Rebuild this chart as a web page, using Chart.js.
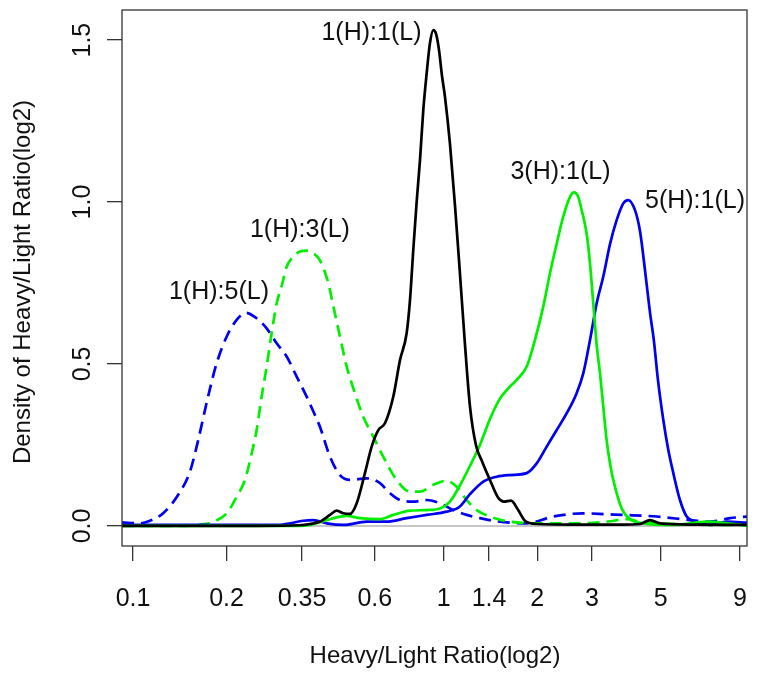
<!DOCTYPE html>
<html>
<head>
<meta charset="utf-8">
<script src="https://cdn.jsdelivr.net/npm/chart.js@4.4.1/dist/chart.umd.min.js"></script>
<style>
  body { margin: 0; background: #fff; }
  #chart { display: block; }
</style>
</head>
<body>
<canvas id="chart" width="758" height="677"></canvas>
<script>
// x values are log2(Heavy/Light ratio), y values are density
const xTickVals = [0.1, 0.2, 0.35, 0.6, 1, 1.4, 2, 3, 5, 9];
const xTickLabels = ['0.1', '0.2', '0.35', '0.6', '1', '1.4', '2', '3', '5', '9'];
const yTickVals = [0, 0.5, 1, 1.5];
const yTickLabels = ['0.0', '0.5', '1.0', '1.5'];

// 1(H):1(L) - black solid
const blackX = [-3.44, -2.0, -1.54, -1.43, -1.323, -1.216, -1.144, -1.074, -1.002, -0.93, -0.842, -0.77, -0.699, -0.628, -0.539, -0.467, -0.396, -0.36, -0.325, -0.289, -0.253, -0.218, -0.182, -0.147, -0.111, -0.082, -0.05, -0.018, 0.014, 0.067, 0.121, 0.174, 0.228, 0.281, 0.345, 0.41, 0.495, 0.581, 0.645, 0.72, 0.795, 0.87, 0.998, 1.4, 1.9, 2.1, 2.207, 2.314, 2.7, 3.244];
const blackY = [0.0, 0.0, 0.002, 0.006, 0.013, 0.034, 0.047, 0.039, 0.037, 0.07, 0.163, 0.245, 0.296, 0.317, 0.399, 0.512, 0.595, 0.698, 0.852, 1.0, 1.13, 1.284, 1.397, 1.49, 1.531, 1.52, 1.47, 1.39, 1.325, 1.181, 0.99, 0.78, 0.56, 0.37, 0.25, 0.2, 0.142, 0.088, 0.075, 0.078, 0.05, 0.016, 0.006, 0.004, 0.004, 0.006, 0.018, 0.008, 0.004, 0.003];

// 3(H):1(L) - green solid
const green31X = [-3.44, -1.54, -1.43, -1.251, -1.037, -0.895, -0.681, -0.539, -0.36, -0.182, -0.04, 0.067, 0.174, 0.281, 0.388, 0.495, 0.602, 0.691, 0.781, 0.888, 0.976, 1.065, 1.137, 1.209, 1.279, 1.351, 1.394, 1.437, 1.476, 1.529, 1.565, 1.6, 1.636, 1.672, 1.707, 1.743, 1.779, 1.814, 1.904, 1.993, 2.135, 2.452, 2.816, 3.03, 3.244];
const green31Y = [0.0, 0.0, 0.003, 0.018, 0.031, 0.024, 0.021, 0.034, 0.047, 0.049, 0.054, 0.075, 0.125, 0.185, 0.25, 0.33, 0.393, 0.425, 0.451, 0.492, 0.574, 0.677, 0.78, 0.872, 0.955, 1.016, 1.03, 1.018, 0.975, 0.903, 0.81, 0.687, 0.56, 0.471, 0.368, 0.265, 0.193, 0.142, 0.054, 0.021, 0.008, 0.003, 0.013, 0.008, 0.001];

// 5(H):1(L) - blue solid
const blue51X = [-3.44, -1.751, -1.644, -1.502, -1.395, -1.251, -1.074, -0.824, -0.61, -0.396, -0.182, 0.032, 0.174, 0.281, 0.424, 0.567, 0.709, 0.888, 0.995, 1.102, 1.209, 1.316, 1.422, 1.493, 1.565, 1.636, 1.707, 1.779, 1.85, 1.921, 1.974, 2.046, 2.1, 2.153, 2.206, 2.249, 2.292, 2.349, 2.402, 2.456, 2.527, 2.599, 2.706, 2.848, 3.03, 3.244];
const blue51Y = [0.003, 0.003, 0.008, 0.016, 0.018, 0.008, 0.003, 0.013, 0.013, 0.024, 0.034, 0.044, 0.06, 0.098, 0.137, 0.152, 0.157, 0.163, 0.193, 0.245, 0.296, 0.348, 0.41, 0.471, 0.574, 0.687, 0.77, 0.87, 0.944, 0.996, 1.006, 0.975, 0.91, 0.79, 0.66, 0.57, 0.45, 0.327, 0.235, 0.163, 0.08, 0.029, 0.013, 0.003, 0.013, 0.01];

// 1(H):3(L) - green dashed
const green13X = [-3.44, -2.8, -2.6, -2.464, -2.321, -2.214, -2.125, -2.053, -2.0, -1.947, -1.893, -1.84, -1.786, -1.733, -1.679, -1.609, -1.537, -1.465, -1.395, -1.323, -1.234, -1.181, -1.109, -1.037, -0.949, -0.86, -0.753, -0.646, -0.503, -0.36, -0.253, -0.111, 0.032, 0.139, 0.246, 0.353, 0.495, 0.709, 1.062, 1.422, 1.747, 1.96, 2.099, 2.527, 3.244];
const green13Y = [0.0, 0.0, 0.004, 0.013, 0.039, 0.09, 0.142, 0.224, 0.296, 0.399, 0.492, 0.595, 0.687, 0.74, 0.80, 0.831, 0.847, 0.85, 0.842, 0.82, 0.75, 0.68, 0.585, 0.492, 0.41, 0.337, 0.276, 0.214, 0.142, 0.106, 0.106, 0.127, 0.139, 0.121, 0.08, 0.049, 0.029, 0.013, 0.008, 0.008, 0.013, 0.021, 0.013, 0.005, 0.003];

// 1(H):5(L) - blue dashed
const blue15X = [-3.44, -3.25, -3.141, -3.0, -2.839, -2.713, -2.625, -2.528, -2.428, -2.321, -2.214, -2.114, -2.0, -1.893, -1.786, -1.679, -1.572, -1.465, -1.358, -1.323, -1.216, -1.109, -1.002, -0.824, -0.681, -0.574, -0.467, -0.328, -0.182, -0.04, 0.103, 0.246, 0.388, 0.53, 0.888, 1.172, 1.493, 1.743, 1.921, 2.278, 2.634, 2.848, 3.062, 3.244];
const blue15Y = [0.011, 0.008, 0.016, 0.039, 0.096, 0.168, 0.265, 0.389, 0.502, 0.584, 0.636, 0.658, 0.641, 0.61, 0.564, 0.523, 0.461, 0.399, 0.33, 0.306, 0.214, 0.157, 0.142, 0.147, 0.132, 0.101, 0.08, 0.075, 0.08, 0.07, 0.049, 0.034, 0.024, 0.016, 0.008, 0.029, 0.039, 0.036, 0.034, 0.029, 0.018, 0.013, 0.024, 0.029];

const curveLabels = ['1(H):1(L)', '1(H):3(L)', '1(H):5(L)', '3(H):1(L)', '5(H):1(L)'];

// where the curve names sit, in data units
const labelSpots = [
    { x: -0.772, y: 1.522 },
    { x: -1.537, y: 0.914 },
    { x: -2.403, y: 0.722 },
    { x: 1.249, y: 1.093 },
    { x: 2.688, y: 1.003 }
];

const FONT = '"Liberation Sans", Arial, Helvetica, sans-serif';

function pts(xs, ys) {
    return xs.map((x, i) => ({ x: x, y: ys[i] }));
}

function curve(xs, ys, color, dashed) {
    return {
        data: pts(xs, ys),
        borderColor: color,
        borderWidth: 2.7,
        borderDash: dashed ? [12, 7] : [],
        fill: false,
        pointRadius: 0,
        cubicInterpolationMode: 'monotone'
    };
}

const rDecor = {
    id: 'rDecor',
    beforeDatasetsDraw(chart) {
        const { ctx, chartArea, scales } = chart;
        const y0 = scales.y.getPixelForValue(0);
        ctx.save();
        ctx.strokeStyle = '#b4b4b4';
        ctx.lineWidth = 1.5;
        ctx.beginPath();
        ctx.moveTo(chartArea.left, y0);
        ctx.lineTo(chartArea.right, y0);
        ctx.stroke();
        ctx.restore();
    },
    afterDraw(chart) {
        const { ctx, chartArea, scales } = chart;
        ctx.save();
        ctx.strokeStyle = '#333';
        ctx.lineWidth = 1.3;
        ctx.strokeRect(chartArea.left, chartArea.top, chartArea.right - chartArea.left, chartArea.bottom - chartArea.top);

        ctx.fillStyle = '#111';
        ctx.font = '25px ' + FONT;
        ctx.textAlign = 'center';
        ctx.textBaseline = 'middle';

        xTickVals.forEach((v, i) => {
            ctx.fillText(xTickLabels[i], scales.x.getPixelForValue(Math.log2(v)), 599);
        });
        yTickVals.forEach((v, i) => {
            ctx.save();
            ctx.translate(83, scales.y.getPixelForValue(v));
            ctx.rotate(-Math.PI / 2);
            ctx.fillText(yTickLabels[i], 0, 0);
            ctx.restore();
        });

        ctx.font = '24px ' + FONT;
        ctx.fillText('Heavy/Light Ratio(log2)', 435, 656);
        ctx.save();
        ctx.translate(23, 282);
        ctx.rotate(-Math.PI / 2);
        ctx.fillText('Density of Heavy/Light Ratio(log2)', 0, 0);
        ctx.restore();

        ctx.font = '25px ' + FONT;
        curveLabels.forEach((t, i) => {
            const p = labelSpots[i];
            ctx.fillText(t, scales.x.getPixelForValue(p.x), scales.y.getPixelForValue(p.y));
        });
        ctx.restore();
    }
};

new Chart(document.getElementById('chart'), {
    type: 'line',
    data: {
        datasets: [
            curve(blackX, blackY, '#000000', false),
            curve(green31X, green31Y, '#00ee00', false),
            curve(blue51X, blue51Y, '#0000ee', false),
            curve(green13X, green13Y, '#00ee00', true),
            curve(blue15X, blue15Y, '#0000ee', true)
        ]
    },
    options: {
        responsive: false,
        animation: false,
        layout: { padding: { left: 0, top: 10, right: 11, bottom: 0 } },
        plugins: { legend: { display: false }, tooltip: { enabled: false } },
        scales: {
            x: {
                type: 'linear',
                min: -3.44,
                max: 3.244,
                afterBuildTicks: s => { s.ticks = xTickVals.map(v => ({ value: Math.log2(v) })); },
                afterFit: s => { s.height = 131; },
                ticks: { display: false },
                grid: { drawOnChartArea: false, tickLength: 15, color: '#333', lineWidth: 1.3 },
                border: { display: false }
            },
            y: {
                type: 'linear',
                min: -0.062,
                max: 1.593,
                afterBuildTicks: s => { s.ticks = yTickVals.map(v => ({ value: v })); },
                afterFit: s => { s.width = 122; },
                ticks: { display: false },
                grid: { drawOnChartArea: false, tickLength: 15, color: '#333', lineWidth: 1.3 },
                border: { display: false }
            }
        }
    },
    plugins: [rDecor]
});
</script>
</body>
</html>
